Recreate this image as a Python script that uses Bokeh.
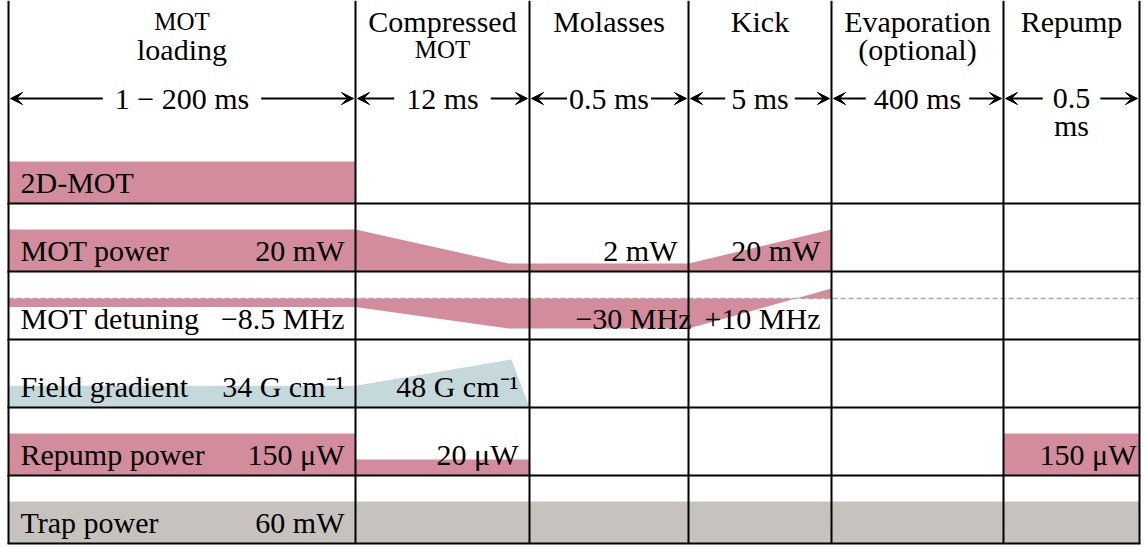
from bokeh.plotting import figure
from bokeh.models import Range1d, Label, Arrow, VeeHead
from bokeh.core.properties import value
from bokeh.embed import file_html
from bokeh.resources import INLINE

# ---------------- data ----------------
phase_title_1 = ["MOT", "Compressed", "Molasses", "Kick", "Evaporation", "Repump"]
phase_title_2 = ["loading", "MOT", "", "", "(optional)", ""]
durations = ["1 − 200 ms", "12 ms", "0.5 ms", "5 ms", "400 ms", "0.5"]
phase_edges = [8, 355, 529, 688, 831, 1003, 1139]   # schematic (not to scale) time axis

row_names = ["2D-MOT", "MOT power", "MOT detuning", "Field gradient", "Repump power", "Trap power"]

# traces: x on the schematic time axis, level relative to a full bar
mot2d_x = [8, 355]
mot2d_lvl = [1.0, 1.0]
motpow_x = [8, 355, 508, 688, 831]
motpow_lvl = [1.0, 1.0, 0.19, 0.19, 1.0]
detuning_x = [8, 355, 508, 688, 831]
detuning_mhz = [-8.5, -8.5, -30.0, -30.0, 10.0]
gradient_x = [8, 355, 511, 529]
gradient_lvl = [0.52, 0.52, 1.14, 0.0]
repump_x = [8, 355, 355, 529, 529, 1003, 1003, 1139]
repump_lvl = [1.0, 1.0, 0.38, 0.38, 0.0, 0.0, 1.0, 1.0]
trap_x = [8, 1139]
trap_lvl = [1.0, 1.0]

# value annotations: (row, phase, text)
value_rows = [1, 1, 1, 2, 2, 2, 3, 3, 4, 4, 4, 5]
value_phases = [0, 2, 3, 0, 2, 3, 0, 1, 0, 1, 5, 0]
value_texts = ["20 mW", "2 mW", "20 mW", "−8.5 MHz", "−30 MHz", "+10 MHz",
               "34 G cm⁻¹", "48 G cm⁻¹", "150 μW", "20 μW", "150 μW", "60 mW"]

# ---------------- styling / layout ----------------
PINK = "#d38c9c"
BLUE = "#c5d9dc"
GREY = "#c6c3be"
FONT = "Liberation Serif"
FS = "30px"
ROW_H = 68
FIRST_ROW_BOTTOM = 203
BAR_H = 42
DET_SCALE = 1.0
TDY = -10   # text baseline correction

row_bottom = [FIRST_ROW_BOTTOM + ROW_H * i for i in range(len(row_names))]
det_zero = row_bottom[2] - 41

p = figure(width=1148, height=547, x_range=Range1d(0, 1148), y_range=Range1d(547, 0),
           output_backend="svg", toolbar_location=None, min_border=0)
p.xaxis.visible = False
p.yaxis.visible = False
p.grid.visible = False
p.outline_line_color = None
p.background_fill_color = "white"
p.border_fill_color = "white"


def bar(xs, lvls, row, color):
    base = row_bottom[row]
    p.varea(x=xs, y1=[base] * len(xs), y2=[base - BAR_H * l for l in lvls],
            fill_color=color, fill_alpha=1.0)


bar(mot2d_x, mot2d_lvl, 0, PINK)
bar(motpow_x, motpow_lvl, 1, PINK)
p.varea(x=detuning_x, y1=[det_zero] * len(detuning_x),
        y2=[det_zero - DET_SCALE * v for v in detuning_mhz], fill_color=PINK)
bar(gradient_x, gradient_lvl, 3, BLUE)
bar(repump_x, repump_lvl, 4, PINK)
bar(trap_x, trap_lvl, 5, GREY)

# zero-detuning reference
p.segment(x0=[phase_edges[0]], y0=[det_zero], x1=[phase_edges[-1]], y1=[det_zero],
          line_color="#a8a8a8", line_width=1.5, line_dash="5 3")

# grid lines
n = len(phase_edges)
p.segment(x0=phase_edges, y0=[0] * n, x1=phase_edges, y1=[row_bottom[-1]] * n,
          line_color="black", line_width=2)
p.segment(x0=[phase_edges[0]] * len(row_bottom), y0=row_bottom,
          x1=[phase_edges[-1]] * len(row_bottom), y1=row_bottom,
          line_color="black", line_width=2, line_cap="square")

centers = [(phase_edges[i] + phase_edges[i + 1]) / 2 for i in range(n - 1)]

# header titles
for i, c in enumerate(centers):
    t1, t2 = phase_title_1[i], phase_title_2[i]
    p.text(x=[c], y=[31 + TDY], text=[t1], text_font=value(FONT),
           text_font_size="25px" if t1 == "MOT" else FS,
           text_align="center", text_baseline="alphabetic", text_color="black")
    if t2:
        p.text(x=[c], y=[59 + TDY], text=[t2], text_font=value(FONT),
               text_font_size="25px" if t2 == "MOT" else FS,
               text_align="center", text_baseline="alphabetic", text_color="black")

# duration arrows
ARROW_Y = 98
for i, c in enumerate(centers):
    head = dict(size=12, fill_color="black", line_color="black")
    p.add_layout(Arrow(start=VeeHead(**head), end=VeeHead(**head),
                       x_start=phase_edges[i] + 2, y_start=ARROW_Y,
                       x_end=phase_edges[i + 1] - 2, y_end=ARROW_Y,
                       line_color="black", line_width=2))
pads = [12, 12, 2, 6, 8, 10]
for i, c in enumerate(centers):
    p.add_layout(Label(x=c, y=108 + TDY, text=durations[i], text_font=FONT, text_font_size=FS,
                       text_color="black", text_align="center", text_baseline="alphabetic",
                       background_fill_color="white", border_line_color=None,
                       padding=pads[i]))
p.text(x=[centers[-1]], y=[135 + TDY], text=["ms"], text_font=value(FONT), text_font_size=FS,
       text_align="center", text_baseline="alphabetic", text_color="black")

# row names
p.text(x=[20] * len(row_names), y=[b - 11 + TDY for b in row_bottom], text=row_names,
       text_font=value(FONT), text_font_size=FS, text_align="left",
       text_baseline="alphabetic", text_color="black")

# values, right aligned near the end of their phase
vx, vy = [], []
for r, ph in zip(value_rows, value_phases):
    shift = 14 if (r, ph) == (2, 2) else (8 if ph == 5 else 0)
    vx.append(phase_edges[ph + 1] - 11 + shift)
    vy.append(row_bottom[r] - 11 + TDY)
p.text(x=vx, y=vy, text=value_texts, text_font=value(FONT), text_font_size=FS,
       text_align="right", text_baseline="alphabetic", text_color="black")

open("out.html", "w").write(file_html(p, INLINE))
